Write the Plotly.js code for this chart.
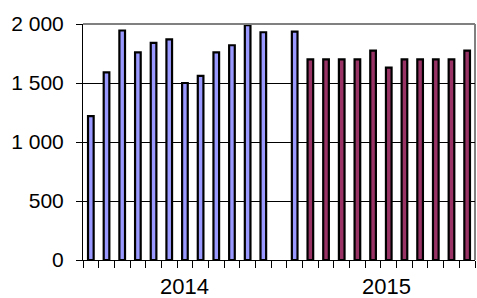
<!DOCTYPE html>
<html>
<head>
<meta charset="utf-8">
<script src="https://cdn.plot.ly/plotly-3.0.1.min.js"></script>
<style>html,body{margin:0;padding:0;background:#fff;}#chart{width:477px;height:298px;}</style>
</head>
<body>
<div id="chart"></div>
<script>
// Categories: 2014 has 12 months plus an empty slot, 2015 has 12 months
const categories = [
  '2014-01','2014-02','2014-03','2014-04','2014-05','2014-06',
  '2014-07','2014-08','2014-09','2014-10','2014-11','2014-12','2014-gap',
  '2015-01','2015-02','2015-03','2015-04','2015-05','2015-06',
  '2015-07','2015-08','2015-09','2015-10','2015-11','2015-12'
];
// Actual values (blue)
const actualValues = [
  1220, 1590, 1945, 1760, 1840, 1870, 1500, 1560, 1760, 1820, 1990, 1930, null,
  1935, null, null, null, null, null, null, null, null, null, null, null
];
// Planned values (maroon)
const planValues = [
  null, null, null, null, null, null, null, null, null, null, null, null, null,
  null, 1700, 1700, 1700, 1700, 1775, 1630, 1700, 1700, 1700, 1700, 1775
];
const groupLabels = ['2014', '2015'];
const groupStart = [0, 13];
const groupEnd = [12, 24];
const yTicks = [0, 500, 1000, 1500, 2000];

const font = "'Liberation Sans', Arial, sans-serif";

const traces = [
  {type:'bar', x: categories, y: actualValues, width: 0.36,
   marker:{color:'#9999FF', line:{color:'#000000', width:2.2}}, hoverinfo:'skip'},
  {type:'bar', x: categories, y: planValues, width: 0.36,
   marker:{color:'#993366', line:{color:'#000000', width:2.2}}, hoverinfo:'skip'}
];

const annotations = groupLabels.map((g, i) => ({
  text: g, xref: 'x', yref: 'paper',
  x: (groupStart[i] + groupEnd[i]) / 2, y: -0.112,
  xanchor: 'center', yanchor: 'middle', showarrow: false,
  xshift: i === 1 ? 6 : 0,
  font: {family: font, size: 22, color: '#000'}
}));

const layout = {
  width: 477, height: 298,
  margin: {l: 83, r: 2, t: 23.5, b: 37.5, pad: 0},
  paper_bgcolor: '#fff', plot_bgcolor: '#fff',
  showlegend: false,
  barmode: 'overlay',
  separators: ', ',
  font: {family: font, size: 21, color: '#000'},
  xaxis: {
    type: 'category', categoryorder: 'array', categoryarray: categories,
    range: [-0.5, categories.length - 0.5],
    showticklabels: false, showgrid: false, zeroline: false,
    showline: true, linecolor: '#000', linewidth: 1,
    ticks: 'outside', tickson: 'boundaries', ticklen: 7, tickcolor: '#000', tickwidth: 1
  },
  yaxis: {
    range: [0, 2000], tickvals: yTicks, tickformat: ',d',
    showgrid: true, gridcolor: '#000', gridwidth: 1,
    zeroline: false, showline: true, linecolor: '#000', linewidth: 1,
    ticks: 'outside', ticklen: 6, tickcolor: '#000', tickwidth: 1,
    ticklabelstandoff: 8,
    tickfont: {family: font, size: 21, color: '#000'}
  },
  annotations: annotations,
  shapes: [
    {type:'line', xref:'paper', yref:'paper', x0:0, x1:1, y0:1, y1:1, line:{color:'#808080', width:2}, layer:'above'},
    {type:'line', xref:'paper', yref:'paper', x0:1, x1:1, y0:0, y1:1, line:{color:'#808080', width:2}, layer:'below'}
  ]
};

Plotly.newPlot('chart', traces, layout, {staticPlot: true, displayModeBar: false});
</script>
</body>
</html>
